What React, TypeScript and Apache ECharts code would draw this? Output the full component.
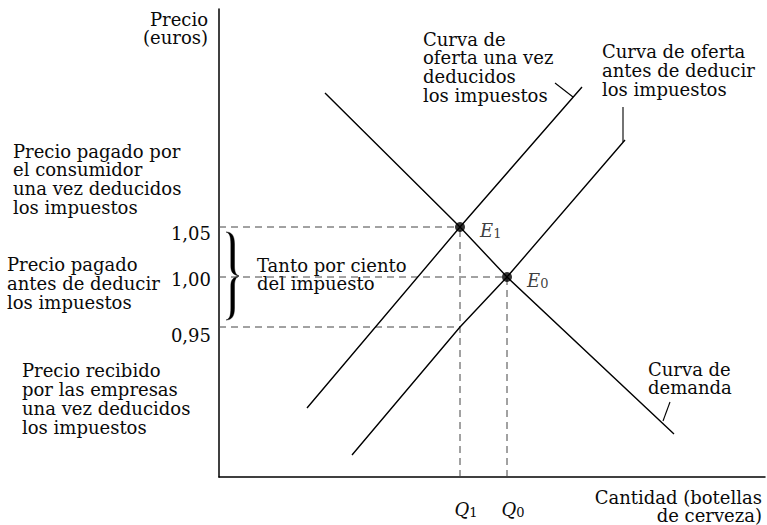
import React, { useEffect, useRef } from 'react';
import * as echarts from 'echarts';

// ---- data (price in euros, quantity in arbitrary units) ----
const PRICE_TICKS = [0.95, 1.0, 1.05];
const PRICE_TICK_LABELS = ['0,95', '1,00', '1,05'];
const QUANTITY_TICKS = [24.1, 28.8];
const QUANTITY_TICK_SUBS = ['1', '0'];

const DEMAND = [[10.6, 1.184], [24.1, 1.05], [28.8, 1.0], [45.5, 0.843]];
const SUPPLY_AFTER_TAX = [[8.8, 0.869], [24.1, 1.05], [36.3, 1.19]];
const SUPPLY_BEFORE_TAX = [[13.3, 0.822], [24.1, 0.95], [28.8, 1.0], [40.6, 1.137]];

const EQUILIBRIUM_NAMES = ['E1', 'E0'];
const EQUILIBRIUM_Q = [24.1, 28.8];
const EQUILIBRIUM_P = [1.05, 1.0];

const PRICE_MIN = 0.8;
const PRICE_MAX = 1.268;
const Q_MIN = 0;
const Q_MAX = 54.6;

// guides: dashed lines from axes to the equilibria
const GUIDES = [
  [[Q_MIN, 1.05], [24.1, 1.05]],
  [[Q_MIN, 1.0], [28.8, 1.0]],
  [[Q_MIN, 0.95], [24.1, 0.95]],
  [[24.1, PRICE_MIN], [24.1, 1.05]],
  [[28.8, PRICE_MIN], [28.8, 1.0]],
];

// leader lines from labels to curves
const LEADERS = [
  [[33.6, 1.194], [35.4, 1.18]],
  [[40.4, 1.17], [40.4, 1.135]],
  [[45.1, 0.875], [44.4, 0.856]],
];

const SERIF = '"DejaVu Serif", serif';
const INK = '#0a0a0a';

const BRACE_D =
  'M0 0 C6 0 8.5 4 8.5 12 L8.5 34 C8.5 40 10 43 13 44 C10 45 8.5 48 8.5 54 L8.5 76 C8.5 84 6 88 0 88 ' +
  'C3.5 87 4.8 84 4.8 76 L4.8 54 C4.8 48 7 45 13 44 C7 43 4.8 40 4.8 34 L4.8 12 C4.8 4 3.5 1 0 0 Z';

let registered = false;

function txt(x: number, y: number, text: string, align: string = 'left', lh: number = 18.6) {
  return {
    type: 'text',
    x,
    y,
    style: {
      text,
      fontSize: 18,
      fontFamily: SERIF,
      lineHeight: lh,
      fill: INK,
      align,
      verticalAlign: 'top',
    },
  };
}

export default function App() {
  const ref = useRef<HTMLDivElement>(null);

  useEffect(() => {
    if (!ref.current) return;
    if (!registered) {
      echarts.graphic.registerShape('brace', (echarts.graphic as any).extendPath(BRACE_D, {}));
      registered = true;
    }
    const chart = echarts.init(ref.current, undefined, { renderer: 'svg' });

    const curveStyle = { color: '#000', width: 1.4 };
    const lineSeries = (name: string, data: number[][], style: any) => ({
      type: 'line',
      name,
      data,
      showSymbol: false,
      symbol: 'none',
      lineStyle: style,
      silent: true,
      z: 3,
    });

    const option: any = {
      animation: false,
      backgroundColor: '#fff',
      grid: { left: 219, top: 9, right: 2, bottom: 48, containLabel: false },
      xAxis: {
        type: 'value',
        min: Q_MIN,
        max: Q_MAX,
        splitLine: { show: false },
        axisTick: { show: false },
        axisLine: { show: true, lineStyle: { color: '#000', width: 1.5 } },
        axisLabel: {
          customValues: QUANTITY_TICKS,
          margin: 22,
          formatter: (v: number) => {
            const i = QUANTITY_TICKS.findIndex((t) => Math.abs(t - v) < 1e-6);
            return `{q|Q}{s|${QUANTITY_TICK_SUBS[i]}}`;
          },
          rich: {
            q: { fontFamily: SERIF, fontStyle: 'italic', fontSize: 18, color: INK, lineHeight: 20, padding: [0, 0, 0, 12] },
            s: { fontFamily: SERIF, fontSize: 13, color: INK, lineHeight: 13, verticalAlign: 'bottom' },
          },
        },
      },
      yAxis: {
        type: 'value',
        min: PRICE_MIN,
        max: PRICE_MAX,
        splitLine: { show: false },
        axisTick: { show: false },
        axisLine: { show: true, lineStyle: { color: '#000', width: 1.5 } },
        axisLabel: {
          customValues: PRICE_TICKS,
          margin: 8,
          formatter: (v: number) => {
            const i = PRICE_TICKS.findIndex((t) => Math.abs(t - v) < 1e-6);
            return `{p${i}|${PRICE_TICK_LABELS[i]}}`;
          },
          rich: {
            p0: { fontFamily: SERIF, fontSize: 18, color: INK, padding: [16, 0, 0, 0] },
            p1: { fontFamily: SERIF, fontSize: 18, color: INK, padding: [4, 0, 0, 0] },
            p2: { fontFamily: SERIF, fontSize: 18, color: INK, padding: [13, 0, 0, 0] },
          },
        },
      },
      series: [
        ...GUIDES.map((g, i) =>
          lineSeries('guide' + i, g, { color: '#444', width: 1, type: [7, 5] })
        ),
        lineSeries('Curva de demanda', DEMAND, curveStyle),
        lineSeries('Curva de oferta una vez deducidos los impuestos', SUPPLY_AFTER_TAX, curveStyle),
        lineSeries('Curva de oferta antes de deducir los impuestos', SUPPLY_BEFORE_TAX, curveStyle),
        ...LEADERS.map((l, i) => lineSeries('leader' + i, l, { color: '#000', width: 1.1 })),
        {
          type: 'scatter',
          name: 'equilibrio',
          symbol: 'circle',
          symbolSize: 10,
          itemStyle: { color: '#000' },
          z: 5,
          data: EQUILIBRIUM_NAMES.map((n, i) => ({ name: n, value: [EQUILIBRIUM_Q[i], EQUILIBRIUM_P[i]] })),
          label: {
            show: true,
            position: 'right',
            distance: 15,
            offset: [0, 3],
            formatter: (p: any) => `{e|E}{s|${p.name.slice(1)}}`,
            rich: {
              e: { fontFamily: SERIF, fontStyle: 'italic', fontSize: 18, color: INK, lineHeight: 20 },
              s: { fontFamily: SERIF, fontSize: 13, color: INK, lineHeight: 13, verticalAlign: 'bottom' },
            },
          },
        },
      ],
      graphic: [
        txt(208, 10, 'Precio\n(euros)', 'right'),
        txt(13, 142, 'Precio pagado por\nel consumidor\nuna vez deducidos\nlos impuestos'),
        txt(7, 255, 'Precio pagado\nantes de deducir\nlos impuestos', 'left', 19),
        txt(22, 361, 'Precio recibido\npor las empresas\nuna vez deducidos\nlos impuestos', 'left', 19),
        txt(257, 256, 'Tanto por ciento\ndel impuesto', 'left', 18),
        txt(423, 30, 'Curva de\noferta una vez\ndeducidos\nlos impuestos', 'left', 18.6),
        txt(602, 42, 'Curva de oferta\nantes de deducir\nlos impuestos', 'left', 19),
        txt(648, 360, 'Curva de\ndemanda', 'left', 18.5),
        txt(762, 488, 'Cantidad (botellas\nde cerveza)', 'right', 18.5),
        {
          type: 'brace',
          x: 226,
          y: 232,
          style: { fill: '#000', stroke: '#000', lineWidth: 0.4 },
        },
      ],
    };

    chart.setOption(option);
    return () => chart.dispose();
  }, []);

  return (
    <div
      ref={ref}
      style={{ position: 'fixed', left: 0, top: 0, width: 767, height: 525, background: '#fff' }}
    />
  );
}
